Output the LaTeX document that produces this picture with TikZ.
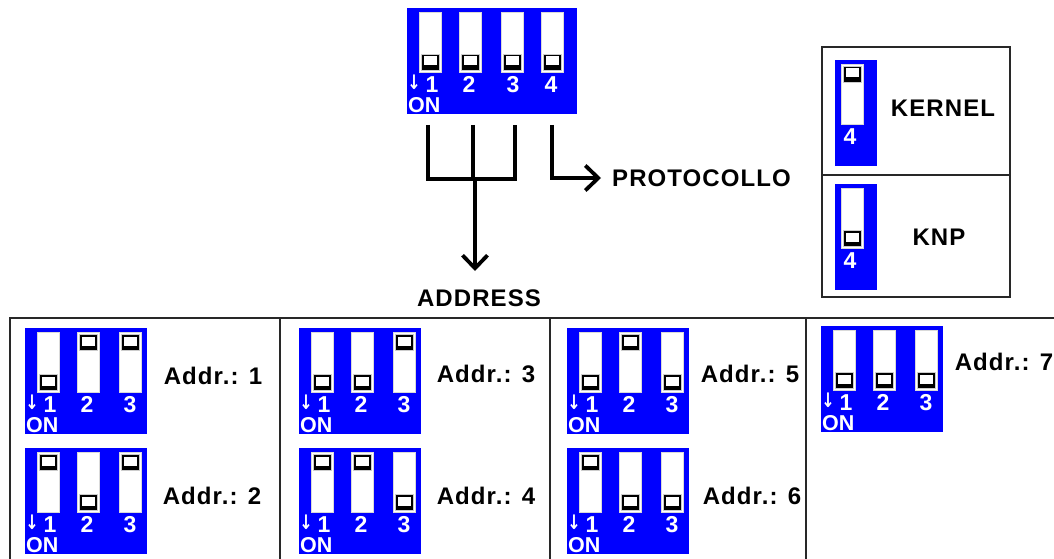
\documentclass[tikz,border=0pt]{standalone}
\usepackage{fontspec}
\setmainfont{Liberation Sans}
\newfontfamily\labfont[LetterSpace=4.5]{Liberation Sans}
\newfontfamily\arrfont{DejaVu Sans}
\usetikzlibrary{arrows.meta}
\definecolor{dipblue}{RGB}{0,0,255}
\definecolor{frameg}{RGB}{40,40,40}
\tikzset{x=1pt,y=-1pt,
  dipbody/.style={fill=dipblue,draw=none},
  slotbox/.style={fill=white,draw=white!85!black,line width=.6pt},
  knobouter/.style={fill=black,draw=white!80!black,line width=.5pt},
  knobinner/.style={fill=white,draw=none},
  diplab/.style={text=white,font=\fontsize{23}{23}\selectfont\bfseries,inner sep=0pt,anchor=center},
  onlab/.style={text=white,font=\fontsize{21.5}{21.5}\selectfont\bfseries,inner sep=0pt,anchor=west},
  arrlab/.style={text=white,font=\arrfont\fontsize{20}{20}\selectfont\bfseries,inner sep=0pt,xscale=.8},
  wire/.style={draw=black,line width=3.4pt},
  arrowwire/.style={wire,-{Straight Barb[length=13pt,width=25pt,line width=3.8pt]}},
  framel/.style={draw=frameg,line width=2.2pt},
  lab/.style={text=black,font=\labfont\fontsize{24}{24}\selectfont\bfseries,inner sep=0pt,anchor=center}}
% slot at x offset #3 of the box at (#1,#2); #4 = 1 low, 0 high
\newcommand{\dipslot}[4]{%
  \path[slotbox] ({#1+#3},{#2+4}) rectangle ({#1+#3+22},{#2+64});
  \ifnum#4=1
    \path[knobouter] ({#1+#3+2},{#2+46}) rectangle ({#1+#3+20},{#2+62});
    \path[knobinner] ({#1+#3+4.5},{#2+48.5}) rectangle ({#1+#3+17.5},{#2+57.5});
  \else
    \path[knobouter] ({#1+#3+2},{#2+6}) rectangle ({#1+#3+20},{#2+22});
    \path[knobinner] ({#1+#3+4.5},{#2+8.5}) rectangle ({#1+#3+17.5},{#2+17.5});
  \fi}
\newcommand{\dipthree}[6]{%
  \path[dipbody] (#2,#3) rectangle ({#2+122},{#3+106});
  \coordinate (#1) at (#2,#3);
  \dipslot{#2}{#3}{12}{#4}\dipslot{#2}{#3}{52}{#5}\dipslot{#2}{#3}{94}{#6}
  \node[diplab] (#1d) at ({#2+25},{#3+76.5}) {1};
  \node[diplab] (#1e) at ({#2+62},{#3+76.5}) {2};
  \node[diplab] (#1f) at ({#2+105},{#3+76.5}) {3};
  \node[arrlab] (#1a) at ({#2+7},{#3+74}) {↓};
  \node[onlab] (#1o) at ({#2+1},{#3+97}) {ON};}
\newcommand{\dipone}[4]{%
  \path[dipbody] (#2,#3) rectangle ({#2+42},{#3+106});
  \dipslot{#2}{#3}{6}{#4}
  \node[diplab] (#1d) at ({#2+15},{#3+76.5}) {4};}
\begin{document}
\begin{tikzpicture}
\useasboundingbox (0,0) rectangle (1054,559);
\fill[white] (0,0) rectangle (1054,559);
% top switch
\path[dipbody] (407,8) rectangle (577,114);
\dipslot{407}{8}{12}{1}\dipslot{407}{8}{52}{1}\dipslot{407}{8}{94}{1}\dipslot{407}{8}{134}{1}
\node[diplab] (t1) at (432,84.5) {1};
\node[diplab] (t2) at (469,84.5) {2};
\node[diplab] (t3) at (513,84.5) {3};
\node[diplab] (t4) at (551,84.5) {4};
\node[arrlab] (ta) at (414,82) {↓};
\node[onlab] (to) at (408,105) {ON};
% connectors
\coordinate (s1) at (428,125); \coordinate (s2) at (473,125);
\coordinate (s3) at (515,125); \coordinate (s4) at (552,125);
\coordinate (j1) at (428,179); \coordinate (j2) at (473,179); \coordinate (j3) at (515,179);
\coordinate (j4) at (475,179); \coordinate (a1) at (475,271);
\coordinate (j5) at (552,178); \coordinate (a2) at (601,178);
\node[lab,anchor=west] (proto) at (612,178) {PROTOCOLLO};
\node[lab] (addr) at (479,298) {ADDRESS};
\draw[wire] (s1) -- (j1) -- (j3) -- (s3);
\draw[wire] (s2) -- (j2);
\draw[arrowwire] (j4) -- (a1);
\draw[arrowwire] (s4) -- (j5) -- (a2);
% protocol table
\draw[framel] (822,47) rectangle (1010,297);
\draw[framel] (822,175) -- (1010,175);
\dipone{k}{835}{60}{0}
\dipone{n}{835}{184}{1}
\node[lab] (kernel) at (943,108) {KERNEL};
\node[lab] (knp) at (939,237) {KNP};
% address table
\draw[framel] (1054,318) -- (10,318) -- (10,559);
\draw[framel] (280,318) -- (280,559);
\draw[framel] (550,318) -- (550,559);
\draw[framel] (806,318) -- (806,559);
\dipthree{a}{25}{328}{1}{0}{0}
\dipthree{b}{25}{448}{0}{1}{0}
\dipthree{c}{299}{328}{1}{1}{0}
\dipthree{d}{299}{448}{0}{0}{1}
\dipthree{e}{567}{328}{1}{0}{1}
\dipthree{f}{567}{448}{0}{1}{1}
\dipthree{g}{821}{326}{1}{1}{1}
\node[lab] (l1) at (213,376) {Addr.: 1};
\node[lab] (l2) at (212,496) {Addr.: 2};
\node[lab] (l3) at (486,374) {Addr.: 3};
\node[lab] (l4) at (486,496) {Addr.: 4};
\node[lab] (l5) at (750,374) {Addr.: 5};
\node[lab] (l6) at (752,496) {Addr.: 6};
\node[lab] (l7) at (1004,362) {Addr.: 7};
\end{tikzpicture}
\end{document}
